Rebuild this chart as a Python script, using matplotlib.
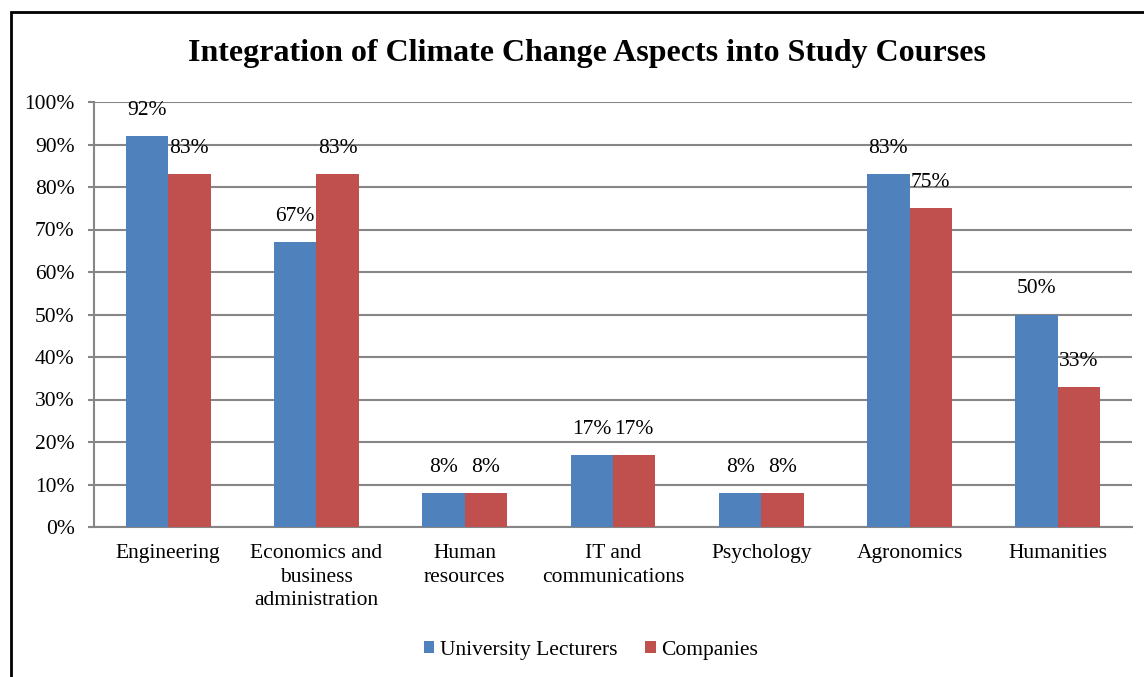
"""Integration of climate change aspects into study courses."""

import numpy as np
import matplotlib.pyplot as plt
from matplotlib.patches import Rectangle

categories = ["Engineering", "Economics and\nbusiness\nadministration",
              "Human\nresources", "IT and\ncommunications", "Psychology",
              "Agronomics", "Humanities"]
lecturers = [92, 67, 8, 17, 8, 83, 50]
companies = [83, 83, 8, 17, 8, 75, 33]
yticks = [0, 10, 20, 30, 40, 50, 60, 70, 80, 90, 100]

plt.rcParams["font.family"] = ["Liberation Serif", "DejaVu Serif"]
plt.rcParams["font.size"] = 15.5

W, H = 1144, 677
fig = plt.figure(figsize=(W / 100, H / 100), dpi=100)
ax = fig.add_axes([94 / W, 1 - 527 / H, (1132 - 94) / W, (527 - 102) / H])

# outer frame (cut off on the right and bottom)
fig.patches.append(Rectangle((11 / W, -0.05), 1.1, 1 - 12 / H + 0.05,
                             transform=fig.transFigure, fill=False,
                             edgecolor="black", linewidth=2))

x = np.arange(len(categories))
width = 0.286
blue = "#4F81BD"
red = "#C0504D"
b1 = ax.bar(x - width / 2, lecturers, width, color=blue,
            label="University Lecturers", zorder=3)
b2 = ax.bar(x + width / 2, companies, width, color=red,
            label="Companies", zorder=3)

for bars, vals in ((b1, lecturers), (b2, companies)):
    for rect, v in zip(bars, vals):
        ax.annotate(f"{v}%", (rect.get_x() + rect.get_width() / 2, v),
                    xytext=(0, 18.5), textcoords="offset points",
                    ha="center", va="center", fontsize=15.5)

ax.set_xlim(-0.5, len(categories) - 0.5)
ax.set_ylim(0, 100)
ax.set_yticks(yticks)
ax.set_yticklabels([f"{t}%" for t in yticks])
ax.set_xticks(x)
ax.set_xticklabels(categories, linespacing=1.35, va="top")
ax.tick_params(axis="x", length=0, pad=12)
ax.tick_params(axis="y", length=4, color="#868686", width=1.5, pad=10)
ax.grid(axis="y", color="#868686", linewidth=1.5, zorder=0)
for s in ("top", "right"):
    ax.spines[s].set_visible(False)
for s in ("left", "bottom"):
    ax.spines[s].set_color("#868686")
    ax.spines[s].set_linewidth(1.5)

fig.text(587 / W, 1 - 53 / H, "Integration of Climate Change Aspects into Study Courses",
         ha="center", va="center", fontsize=23, fontweight="bold")

fig.legend(handles=[b1, b2], loc="center", bbox_to_anchor=(591 / W, 1 - 650 / H),
           ncol=2, frameon=False, fontsize=15.5, handlelength=0.5,
           handleheight=0.5, handletextpad=0.25, columnspacing=1.3)

fig.savefig("out.png", dpi=100)
